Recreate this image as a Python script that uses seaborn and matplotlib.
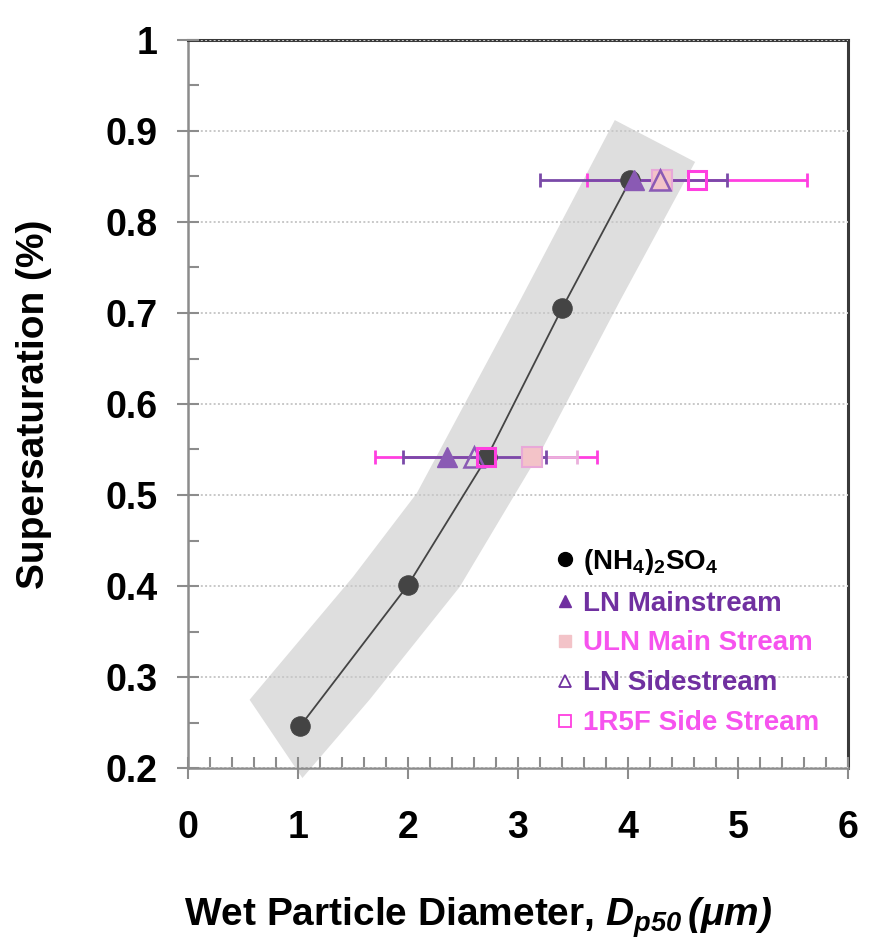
import numpy as np
import pandas as pd
import matplotlib
matplotlib.use("Agg")
import matplotlib.pyplot as plt
import seaborn as sns
from matplotlib.lines import Line2D
from matplotlib.ticker import MultipleLocator, FuncFormatter

# ammonium sulfate calibration points
as_d = [1.02, 2.00, 2.72, 3.40, 4.02]
as_ss = [0.246, 0.401, 0.542, 0.705, 0.846]

# measured soot samples at two supersaturations
ss_levels = [0.542, 0.846]
ln_main_d = [2.35, 4.05]
ln_main_err = [0.0, 0.85]
uln_main_d = [3.13, 4.31]
uln_main_err = [0.41, 0.0]
ln_side_d = [2.60, 4.29]
ln_side_err = [0.65, 0.0]
r5f_side_d = [2.71, 4.63]
r5f_side_err = [1.01, 1.00]

# shaded uncertainty band around the calibration curve
band_x = [0.56, 1.50, 2.08, 3.02, 3.88, 4.61, 3.93, 3.23, 2.47, 1.65, 1.04]
band_y = [0.275, 0.410, 0.502, 0.714, 0.912, 0.866, 0.714, 0.553, 0.399, 0.275, 0.189]

labels = [r"(NH$_{\mathbf{4}}$)$_{\mathbf{2}}$SO$_{\mathbf{4}}$", "LN Mainstream",
          "ULN Main Stream", "LN Sidestream", "1R5F Side Stream"]

sns.set_theme(style="white")
plt.rcParams['font.family'] = ['Liberation Sans', 'DejaVu Sans']
plt.rcParams['font.weight'] = 'bold'
plt.rcParams['text.color'] = 'black'
plt.rcParams['axes.labelcolor'] = 'black'
plt.rcParams['xtick.color'] = 'black'
plt.rcParams['ytick.color'] = 'black'
plt.rcParams['mathtext.fontset'] = 'custom'
plt.rcParams['mathtext.rm'] = 'Liberation Sans:bold:italic'
plt.rcParams['mathtext.it'] = 'Liberation Sans:bold:italic'
plt.rcParams['mathtext.bf'] = 'Liberation Sans:bold'
plt.rcParams['mathtext.default'] = 'it'

purple = '#8a5ab4'
purple_txt = '#7030a0'
pink = '#ff3fe0'
pink_txt = '#f653ee'
light_pink = '#f3c3c8'

fig = plt.figure(figsize=(8.76, 9.44), dpi=100)
ax = fig.add_axes([188/876, 1-768/944, 660/876, 728/944])

ax.fill(band_x, band_y, color='#dedede', zorder=0.5, clip_on=False, lw=0)
ax.grid(axis='y', color='#c8c8c8', linestyle=(0, (1, 1.2)), lw=1.4, zorder=1)
ax.set_axisbelow(False)

# error bars
ax.errorbar(r5f_side_d, ss_levels, xerr=r5f_side_err, fmt='none', ecolor=pink,
            elinewidth=2, capsize=5, capthick=2, zorder=2)
ax.errorbar(ln_main_d[1:], ss_levels[1:], xerr=ln_main_err[1:], fmt='none', ecolor='#7a4aa8',
            elinewidth=2, capsize=5, capthick=2, zorder=2.1)
ax.errorbar(ln_side_d[:1], ss_levels[:1], xerr=ln_side_err[:1], fmt='none', ecolor='#7a4aa8',
            elinewidth=2, capsize=5, capthick=2, zorder=2.1)
ax.errorbar(uln_main_d[:1], ss_levels[:1], xerr=uln_main_err[:1], fmt='none', ecolor='#eab0dc',
            elinewidth=2, capsize=5, capthick=2, zorder=2.05)

as_df = pd.DataFrame({'d': as_d, 'ss': as_ss})
sns.lineplot(data=as_df, x='d', y='ss', ax=ax, color='#444444', lw=1.3,
             marker='o', markersize=14, markeredgecolor='#444444',
             markerfacecolor='#444444', zorder=3, sort=False)

ax.plot(ln_main_d, ss_levels, '^', ms=14, mfc=purple, mec=purple, ls='none', zorder=4)
ax.plot(uln_main_d, ss_levels, 's', ms=14, mfc=light_pink, mec='#e8a8d8', mew=1.5,
        ls='none', zorder=4.1)
ax.plot(ln_side_d, ss_levels, '^', ms=14, mfc='none', mec=purple, mew=1.8, ls='none', zorder=4.2)
ax.plot(r5f_side_d, ss_levels, 's', ms=13, mfc='none', mec=pink, mew=2.2, ls='none', zorder=4.3)

ax.set_xlim(0, 6)
ax.set_ylim(0.2, 1.0)
ax.xaxis.set_major_locator(MultipleLocator(1))
ax.xaxis.set_minor_locator(MultipleLocator(0.2))
ax.yaxis.set_major_locator(MultipleLocator(0.1))
ax.yaxis.set_minor_locator(MultipleLocator(0.05))
ax.yaxis.set_major_formatter(FuncFormatter(lambda v, p: f"{v:g}"))

ax.tick_params(axis='both', which='major', direction='inout', length=16, width=1.5,
               color='#8c8c8c', labelcolor='black', labelsize=27, pad=14)
ax.tick_params(axis='x', which='major', pad=22)
ax.tick_params(axis='both', which='minor', direction='in', length=8, width=1.5, color='#8c8c8c')
ax.tick_params(axis='x', which='both', bottom=True, top=False)
ax.tick_params(axis='y', which='both', left=True, right=False)

for s in ['left', 'bottom']:
    ax.spines[s].set_color('#8c8c8c')
    ax.spines[s].set_linewidth(1.8)
for s in ['top', 'right']:
    ax.spines[s].set_color('#3a3a3a')
    ax.spines[s].set_linewidth(2.2)

ax.set_xlabel(r"Wet Particle Diameter, $D_{p50}\,(\mu m)$", fontsize=28, fontweight='bold')
ax.xaxis.set_label_coords(0.439, -0.175)
ax.set_ylabel("Supersaturation (%)", fontsize=28, fontweight='bold')
ax.yaxis.set_label_coords(-0.206, 0.5)

handles = [
    Line2D([], [], marker='o', ls='none', ms=10, mfc='black', mec='black'),
    Line2D([], [], marker='^', ls='none', ms=9, mfc=purple_txt, mec=purple_txt),
    Line2D([], [], marker='s', ls='none', ms=8, mfc=light_pink, mec=light_pink),
    Line2D([], [], marker='^', ls='none', ms=9, mfc='none', mec=purple_txt, mew=1.3),
    Line2D([], [], marker='s', ls='none', ms=8, mfc='none', mec=pink, mew=1.3),
]
leg = ax.legend(handles, labels, loc='upper left', bbox_to_anchor=(0.556, 0.304),
                frameon=False, fontsize=20, handlelength=0.7, handletextpad=0.3,
                labelspacing=0.5, borderpad=0, borderaxespad=0,
                labelcolor=['black', purple_txt, pink_txt, purple_txt, pink_txt])
for t in leg.get_texts():
    t.set_fontweight('bold')

fig.savefig('out.png', dpi=100)
